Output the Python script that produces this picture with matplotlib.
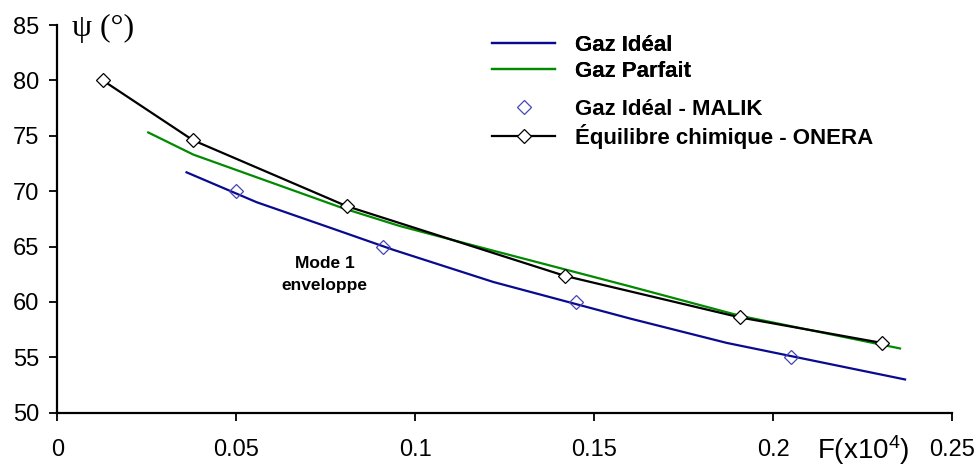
import matplotlib
matplotlib.use("Agg")
import matplotlib.pyplot as plt

plt.rcParams['font.family'] = ['Liberation Sans', 'DejaVu Sans']
plt.rcParams['mathtext.fontset'] = 'custom'
plt.rcParams['mathtext.rm'] = 'Liberation Sans'
plt.rcParams['mathtext.default'] = 'regular'

# ---- data ----
ideal_x = [0.0361, 0.0557, 0.0762, 0.0939, 0.1218, 0.1600, 0.1870, 0.2368]
ideal_y = [71.7, 69.0, 66.7, 64.7, 61.8, 58.5, 56.3, 53.0]

parfait_x = [0.0254, 0.0380, 0.0799, 0.0957, 0.1209, 0.1600, 0.1907, 0.2354]
parfait_y = [75.3, 73.3, 68.45, 66.85, 64.7, 61.4, 58.75, 55.8]

malik_x = [0.050, 0.091, 0.145, 0.205]
malik_y = [70.0, 65.0, 60.0, 55.0]

onera_x = [0.0127, 0.0379, 0.0808, 0.1418, 0.1907, 0.2303]
onera_y = [80.0, 74.6, 68.65, 62.35, 58.6, 56.3]

xticks = [0, 0.05, 0.10, 0.15, 0.20, 0.25]
xtick_labels = ['0', '0.05', '0.1', '0.15', '0.2', '0.25']
yticks = [50, 55, 60, 65, 70, 75, 80, 85]

labels = ['Gaz Idéal', 'Gaz Parfait', 'Gaz Idéal - MALIK', 'Équilibre chimique - ONERA']

W, H = 979, 466
fig = plt.figure(figsize=(W / 100, H / 100), dpi=100)
ax = fig.add_axes([57.3 / W, 1 - 412.7 / H, (952.3 - 57.3) / W, (412.7 - 25) / H])

l1, = ax.plot(ideal_x, ideal_y, color='#0A0A90', lw=1.6)
l2, = ax.plot(parfait_x, parfait_y, color='#008A00', lw=1.6)
l3, = ax.plot(malik_x, malik_y, ls='none', marker='D', ms=7.5, mfc='none',
              mec='#4545B5', mew=0.9)
l4, = ax.plot(onera_x, onera_y, color='black', lw=1.6, marker='D', ms=7.5,
              mfc='white', mec='black', mew=0.9)

ax.set_xlim(0, 0.25)
ax.set_ylim(50, 85)
ax.set_xticks(xticks)
ax.set_xticklabels(xtick_labels)
ax.set_yticks(yticks)
for s in ['top', 'right']:
    ax.spines[s].set_visible(False)
for s in ['left', 'bottom']:
    ax.spines[s].set_linewidth(1.6)
ax.tick_params(axis='both', direction='out', length=6, width=1.3, labelsize=17)
ax.tick_params(axis='x', pad=13)
ax.tick_params(axis='y', pad=7)

# axis labels
fig.text(863 / W, 1 - 450 / H, r'F(x10$^{4}$)', fontsize=20, ha='center', va='center')
fig.text(72 / W, 1 - 28 / H, 'ψ (°)', fontsize=23, ha='left', va='center',
         family=['Liberation Serif', 'DejaVu Serif'])

# annotation
ax.text(0.0747, 63.45, 'Mode 1', fontsize=12.5, fontweight='bold', ha='center', va='center')
ax.text(0.0747, 61.45, 'enveloppe', fontsize=12.5, fontweight='bold', ha='center', va='center')

# legends
leg1 = fig.legend([l1, l2], labels[:2], loc='upper left',
                  bbox_to_anchor=(492 / W, 1 - 35 / H), frameon=False,
                  prop={'size': 16, 'weight': 'bold'}, handlelength=2.85,
                  handletextpad=0.9, labelspacing=0.22, borderpad=0, borderaxespad=0)
leg2 = fig.legend([l3, l4], labels[2:], loc='upper left',
                  bbox_to_anchor=(492 / W, 1 - 99 / H), frameon=False,
                  prop={'size': 16, 'weight': 'bold'}, handlelength=2.85,
                  handletextpad=0.9, labelspacing=0.18, borderpad=0, borderaxespad=0)
fig.add_artist(leg1)

fig.savefig('out.png', dpi=100)
